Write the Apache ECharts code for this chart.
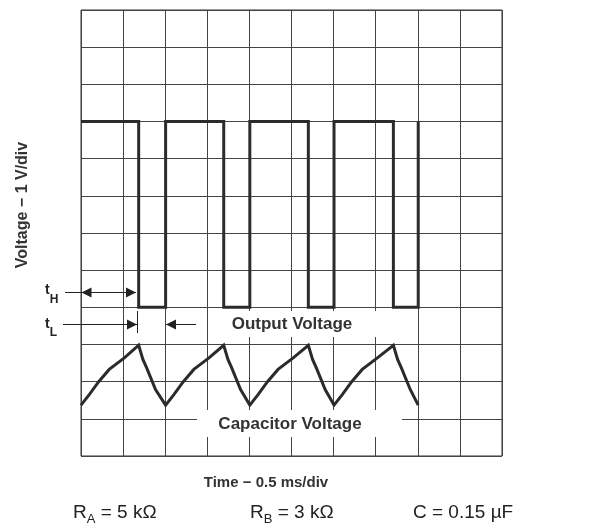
<!DOCTYPE html>
<html>
<head>
<meta charset="utf-8">
<script src="https://cdn.jsdelivr.net/npm/echarts@6/dist/echarts.min.js"></script>
<style>
html,body{margin:0;padding:0;background:#fff;}
#c{width:590px;height:525px;}
</style>
</head>
<body>
<div id="c"></div>
<script>
// Time in divisions (0.5 ms/div), voltage in divisions (1 V/div)
const outputTimes  = [0, 1.37, 1.37, 2.01, 2.01, 3.39, 3.39, 4.01, 4.01, 5.40, 5.40, 6.01, 6.01, 7.42, 7.42, 8.01, 8.01];
const outputValues = [9, 9,    4,    4,    9,    9,    4,    4,    9,    9,    4,    4,    9,    9,    4,    4,    9];

const capTimes  = [0, 0.20, 0.42, 0.67, 1.03, 1.37, 1.47, 1.56, 1.77, 2.01,
                   2.21, 2.43, 2.68, 3.04, 3.39, 3.49, 3.58, 3.79, 4.01,
                   4.21, 4.43, 4.68, 5.04, 5.40, 5.50, 5.59, 5.80, 6.01,
                   6.21, 6.43, 6.68, 7.04, 7.42, 7.52, 7.61, 7.82, 8.01];
const capValues = [1.37, 1.66, 2.00, 2.33, 2.64, 2.98, 2.60, 2.37, 1.79, 1.37,
                   1.66, 2.00, 2.33, 2.64, 2.98, 2.60, 2.37, 1.79, 1.37,
                   1.66, 2.00, 2.33, 2.64, 2.98, 2.60, 2.37, 1.79, 1.37,
                   1.66, 2.00, 2.33, 2.64, 2.98, 2.60, 2.37, 1.79, 1.37];

const xDivs = 10, yDivs = 12;
const yAxisTitle = 'Voltage \u2212 1 V/div';
const xAxisTitle = 'Time \u2212 0.5 ms/div';
const outputLabel = 'Output Voltage';
const capLabel = 'Capacitor Voltage';
const params = [['R', 'A', ' = 5 k\u03A9'], ['R', 'B', ' = 3 k\u03A9'], ['C', '', ' = 0.15 \u00B5F']];

const FONT = '"Liberation Sans", Arial, Helvetica, sans-serif';
const TXT = '#333';
const LINE = '#2b2b2b';

const chart = echarts.init(document.getElementById('c'), null, {renderer: 'canvas'});

const zip = (a, b) => a.map((v, i) => [v, b[i]]);

const ctx = document.createElement('canvas').getContext('2d');
function tw(text, font) { ctx.font = font; return ctx.measureText(text).width; }

const graphics = [];
// white boxes behind the labels
graphics.push({type: 'rect', shape: {x: 212, y: 311, width: 194, height: 26}, style: {fill: '#fff'}, z: 10});
graphics.push({type: 'rect', shape: {x: 197, y: 410, width: 205, height: 27}, style: {fill: '#fff'}, z: 10});
graphics.push({type: 'text', x: 292, y: 324, style: {text: outputLabel, font: 'bold 17px ' + FONT, fill: TXT, align: 'center', verticalAlign: 'middle'}, z: 11});
graphics.push({type: 'text', x: 290, y: 424, style: {text: capLabel, font: 'bold 17px ' + FONT, fill: TXT, align: 'center', verticalAlign: 'middle'}, z: 11});
// axis titles
graphics.push({type: 'text', x: 23, y: 205, rotation: Math.PI / 2, style: {text: yAxisTitle, font: 'bold 16px ' + FONT, fill: TXT, align: 'center', verticalAlign: 'middle'}, z: 11});
graphics.push({type: 'text', x: 266, y: 483, style: {text: xAxisTitle, font: 'bold 15px ' + FONT, fill: TXT, align: 'center', verticalAlign: 'middle'}, z: 11});

// tH / tL annotations
function hline(x1, x2, y) { graphics.push({type: 'line', shape: {x1: x1, y1: y, x2: x2, y2: y}, style: {stroke: '#222', lineWidth: 1}, z: 12}); }
function vline(x, y1, y2) { graphics.push({type: 'line', shape: {x1: x, y1: y1, x2: x, y2: y2}, style: {stroke: '#222', lineWidth: 1}, z: 12}); }
function arrow(tip, dir, y) { // dir=+1 points right, -1 points left
  const b = tip - dir * 10;
  graphics.push({type: 'polygon', shape: {points: [[tip, y], [b, y - 5], [b, y + 5]]}, style: {fill: '#222'}, z: 12});
}
hline(65, 136, 292.5); arrow(81.5, -1, 292.5); arrow(136, 1, 292.5);
hline(63, 137, 324.5); arrow(137, 1, 324.5); vline(137.5, 311, 333);
hline(166, 196, 324.5); arrow(166, -1, 324.5);
function subLabel(x, y, main, sub, f1, f2, dy) {
  graphics.push({type: 'text', x: x, y: y, style: {text: main, font: f1, fill: '#222', align: 'left', verticalAlign: 'middle'}, z: 12});
  const w = tw(main, f1);
  graphics.push({type: 'text', x: x + w, y: y + dy, style: {text: sub, font: f2, fill: '#222', align: 'left', verticalAlign: 'middle'}, z: 12});
  return x + w + (sub ? tw(sub, f2) : 0);
}
subLabel(45, 290.5, 't', 'H', 'bold 14px ' + FONT, 'bold 12px ' + FONT, 9);
subLabel(45, 324.5, 't', 'L', 'bold 14px ' + FONT, 'bold 12px ' + FONT, 8.5);

// parameters line
const px = [73, 250, 413];
params.forEach((p, i) => {
  const f1 = '19px ' + FONT, f2 = '13px ' + FONT;
  const end = subLabel(px[i], 513, p[0], p[1], f1, f2, 6);
  graphics.push({type: 'text', x: end, y: 513, style: {text: p[2], font: f1, fill: '#222', align: 'left', verticalAlign: 'middle'}, z: 12});
});

const option = {
  animation: false,
  backgroundColor: '#fff',
  grid: {left: 81, right: 88, top: 10, bottom: 69, show: true, borderColor: '#333', borderWidth: 1, backgroundColor: 'transparent'},
  xAxis: {type: 'value', min: 0, max: xDivs, interval: 1,
    axisLine: {show: false}, axisTick: {show: false}, axisLabel: {show: false},
    splitLine: {show: true, lineStyle: {color: '#444', width: 1}}},
  yAxis: {type: 'value', min: 0, max: yDivs, interval: 1,
    axisLine: {show: false}, axisTick: {show: false}, axisLabel: {show: false},
    splitLine: {show: true, lineStyle: {color: '#444', width: 1}}},
  series: [
    {type: 'line', data: zip(outputTimes, outputValues), showSymbol: false, symbol: 'none',
     lineStyle: {color: LINE, width: 3, join: 'miter', cap: 'butt'}, z: 20},
    {type: 'line', data: zip(capTimes, capValues), showSymbol: false, symbol: 'none',
     lineStyle: {color: LINE, width: 3, join: 'miter', cap: 'butt'}, z: 20}
  ],
  graphic: graphics
};
chart.setOption(option);
</script>
</body>
</html>
